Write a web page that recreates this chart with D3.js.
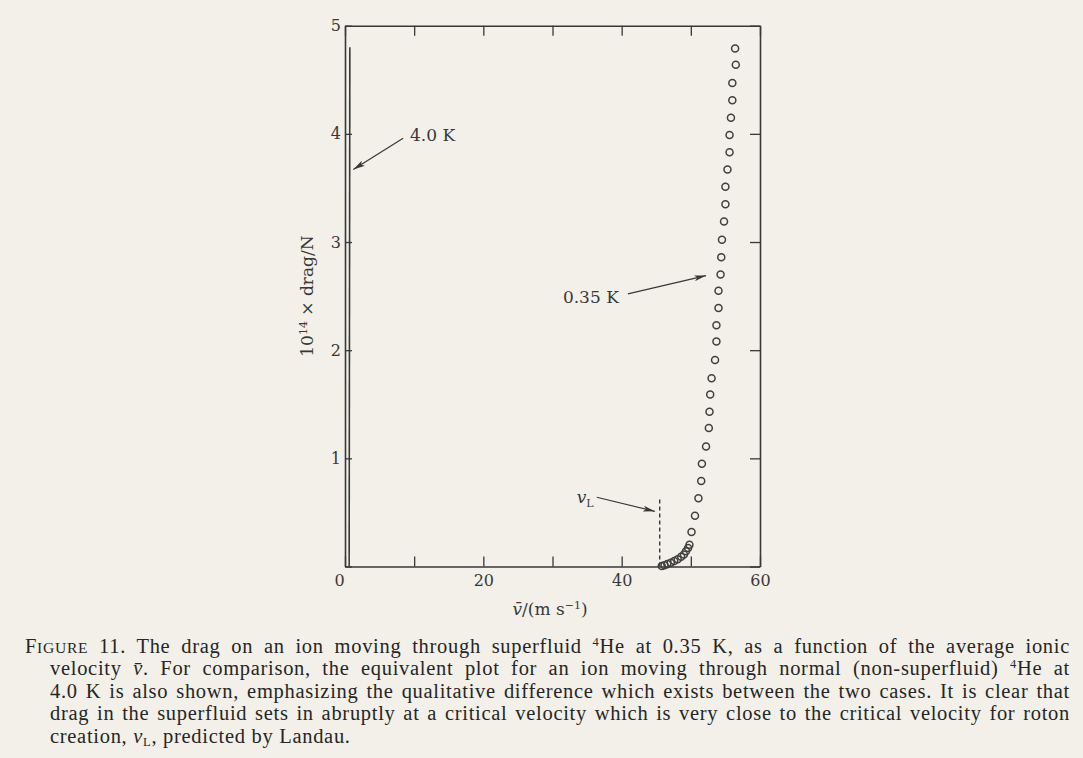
<!DOCTYPE html>
<html><head><meta charset="utf-8">
<script src="https://cdn.jsdelivr.net/npm/d3@7"></script>
<style>
html,body{margin:0;padding:0;background:#f2f0e9;}
svg{display:block;}
</style></head><body>
<svg id="chart" width="1083" height="758"></svg>
<script>
// ---- data ----
const xTicks = [0, 10, 20, 30, 40, 50, 60];
const xTickLabels = ["0", "", "20", "", "40", "", "60"];
const yTicks = [0, 1, 2, 3, 4, 5];
const yTickLabels = ["", "1", "2", "3", "4", "5"];

// 4.0 K (normal helium) : drag rises at essentially zero velocity
const normalVelocity = [0.6, 0.7];
const normalDrag = [0.0, 4.8];

// 0.35 K (superfluid helium)
const superVelocity = [56.4, 56.5, 56.0, 56.0, 55.8, 55.6, 55.6, 55.3, 55.0, 55.0,
  54.8, 54.5, 54.4, 54.3, 54.0, 54.0, 53.7, 53.7, 53.5, 53.0,
  52.8, 52.7, 52.6, 52.2, 51.6, 51.5, 51.1, 50.6, 50.1, 49.8,
  49.6, 49.3, 49.0, 48.6, 48.1, 47.6, 47.1, 46.6, 46.2, 45.8];
const superDrag = [4.79, 4.64, 4.47, 4.31, 4.15, 3.99, 3.83, 3.67, 3.51, 3.35,
  3.19, 3.02, 2.86, 2.70, 2.55, 2.39, 2.23, 2.08, 1.91, 1.74,
  1.59, 1.43, 1.28, 1.11, 0.95, 0.79, 0.63, 0.47, 0.32, 0.20,
  0.17, 0.14, 0.11, 0.09, 0.067, 0.05, 0.035, 0.022, 0.012, 0.005];

// Landau critical velocity marker
const landauVelocity = 45.5;
const landauTop = 0.64;

// annotations (data coordinates)
const annotLabels = ["4.0 K", "0.35 K", "vL"];
const annotTextPos = [[9.4, 3.93], [31.5, 2.44], [33.5, 0.585]];
const annotArrowFrom = [[8.4, 3.96], [40.9, 2.52], [36.4, 0.64]];
const annotArrowTo = [[1.2, 3.67], [52.2, 2.69], [44.8, 0.51]];

// caption lines: segments [text, kind]
const captionLines = [
  [["F","cap"],["IGURE","sc"],[" 11. The drag on an ion moving through superfluid ",""],["4","sup"],["He at 0.35 K, as a function of the average ionic",""]],
  [["velocity ",""],["v\u0304","it"],[". For comparison, the equivalent plot for an ion moving through normal (non-superfluid) ",""],["4","sup"],["He at",""]],
  [["4.0 K is also shown, emphasizing the qualitative difference which exists between the two cases. It is clear that",""]],
  [["drag in the superfluid sets in abruptly at a critical velocity which is very close to the critical velocity for roton",""]],
  [["creation, ",""],["v","it"],["L","sub"],[", predicted by Landau.",""]]
];
const captionJustify = [true, true, true, true, false];

// ---- drawing ----
const svg = d3.select("#chart");
const W = 1083, H = 758;
const plot = {left: 345, right: 760, top: 25.7, bottom: 566.5};
const ink = "#383838";
const chartFont = "'DejaVu Serif', serif";

const x = d3.scaleLinear().domain([0, 60]).range([plot.left, plot.right]);
const y = d3.scaleLinear().domain([0, 5]).range([plot.bottom, plot.top]);

svg.append("rect").attr("width", W).attr("height", H).attr("fill", "#f2f0e9");

// frame axes
const axB = svg.append("g").attr("transform", `translate(0,${plot.bottom})`)
  .call(d3.axisBottom(x).tickValues(xTicks).tickSizeInner(-10).tickSizeOuter(0).tickPadding(8)
    .tickFormat((d, i) => xTickLabels[i]));
const axT = svg.append("g").attr("transform", `translate(0,${plot.top})`)
  .call(d3.axisTop(x).tickValues(xTicks).tickSizeInner(-10).tickSizeOuter(0).tickFormat(""));
const axL = svg.append("g").attr("transform", `translate(${plot.left},0)`)
  .call(d3.axisLeft(y).tickValues(yTicks).tickSizeInner(-7).tickSizeOuter(0).tickPadding(4)
    .tickFormat((d, i) => yTickLabels[i]));
const axR = svg.append("g").attr("transform", `translate(${plot.right},0)`)
  .call(d3.axisRight(y).tickValues(yTicks).tickSizeInner(-10).tickSizeOuter(0).tickFormat(""));

[axB, axT, axL, axR].forEach(g => {
  g.select(".domain").attr("stroke", ink).attr("stroke-width", 1.6);
  g.selectAll(".tick line").attr("stroke", ink).attr("stroke-width", 1.3);
  g.selectAll(".tick text").attr("fill", ink).style("font-family", chartFont).style("font-size", "16px");
});
// origin label sits slightly left of the corner
axB.selectAll(".tick text").filter(d => d === 0).attr("dx", -6);

// 4.0 K line
const lineGen = d3.line().x(d => x(d[0])).y(d => y(d[1]));
svg.append("path")
  .datum(normalVelocity.map((v, i) => [v, normalDrag[i]]))
  .attr("d", lineGen).attr("fill", "none").attr("stroke", ink).attr("stroke-width", 1.6);

// Landau dashed line
svg.append("path")
  .datum([[landauVelocity, 0], [landauVelocity, landauTop]])
  .attr("d", lineGen).attr("fill", "none").attr("stroke", ink)
  .attr("stroke-width", 1.4).attr("stroke-dasharray", "4,3");

// 0.35 K circles
svg.append("g").selectAll("circle")
  .data(superVelocity.map((v, i) => [v, superDrag[i]]))
  .join("circle")
  .attr("cx", d => x(d[0])).attr("cy", d => y(d[1])).attr("r", 3.5)
  .attr("fill", "none").attr("stroke", "#404040").attr("stroke-width", 1.5);

// arrow marker
svg.append("defs").append("marker")
  .attr("id", "arr").attr("viewBox", "0 0 12 6").attr("refX", 12).attr("refY", 3)
  .attr("markerWidth", 12).attr("markerHeight", 6).attr("markerUnits", "userSpaceOnUse")
  .attr("orient", "auto")
  .append("path").attr("d", "M0,0 L12,3 L0,6 L3,3 Z").attr("fill", ink);

annotLabels.forEach((lab, i) => {
  svg.append("line")
    .attr("x1", x(annotArrowFrom[i][0])).attr("y1", y(annotArrowFrom[i][1]))
    .attr("x2", x(annotArrowTo[i][0])).attr("y2", y(annotArrowTo[i][1]))
    .attr("stroke", ink).attr("stroke-width", 1.2).attr("marker-end", "url(#arr)");
  const t = svg.append("text")
    .attr("x", x(annotTextPos[i][0])).attr("y", y(annotTextPos[i][1]))
    .attr("fill", ink).style("font-family", chartFont).style("font-size", "17px");
  if (lab === "vL") {
    t.append("tspan").text("v").style("font-style", "italic");
    t.append("tspan").text("L").attr("dy", 4).style("font-size", "11px");
  } else {
    t.text(lab);
  }
});

// axis titles
const yt = svg.append("text")
  .attr("transform", `translate(313,${(plot.top + plot.bottom) / 2}) rotate(-90)`)
  .attr("text-anchor", "middle").attr("fill", ink)
  .style("font-family", chartFont).style("font-size", "17px");
yt.append("tspan").text("10");
yt.append("tspan").text("14").attr("dy", -6).style("font-size", "11px");
yt.append("tspan").text(" \u00d7 drag/N").attr("dy", 6);

const xt = svg.append("text")
  .attr("x", 550).attr("y", 615)
  .attr("text-anchor", "middle").attr("fill", ink)
  .style("font-family", chartFont).style("font-size", "17px");
xt.append("tspan").text("v\u0304").style("font-style", "italic");
xt.append("tspan").text("/(m s");
xt.append("tspan").text("\u22121").attr("dy", -6).style("font-size", "11px");
xt.append("tspan").text(")").attr("dy", 6);

// caption
const capFont = "'Liberation Serif', 'Times New Roman', serif";
const capSize = 20.5;
const capX0 = 25, capX1 = 50, capRight = 1070, capBase = 653, capStep = 22.4;
captionLines.forEach((segs, li) => {
  const startX = li === 0 ? capX0 : capX1;
  const t = svg.append("text")
    .attr("x", startX).attr("y", capBase + li * capStep)
    .attr("fill", "#262626").style("font-family", capFont).style("font-size", capSize + "px")
    .attr("letter-spacing", 0.7);
  let shift = 0;
  segs.forEach(([txt, kind]) => {
    const sp = t.append("tspan").text(txt);
    let dy = -shift; shift = 0;
    if (kind === "sc") sp.style("font-size", (capSize * 0.76) + "px");
    if (kind === "it") sp.style("font-style", "italic");
    if (kind === "sup") { sp.style("font-size", "12.5px"); dy += -7; shift = -7; }
    if (kind === "sub") { sp.style("font-size", "12.5px"); dy += 3; shift = 3; }
    if (dy !== 0) sp.attr("dy", dy);
  });
  if (captionJustify[li]) {
    const node = t.node();
    const len = node.getComputedTextLength();
    const full = segs.map(s => s[0]).join("");
    const spaces = (full.match(/ /g) || []).length;
    const target = capRight - startX;
    if (spaces > 0) t.attr("word-spacing", Math.max(-3, (target - len) / spaces));
  }
});
</script>
</body></html>
